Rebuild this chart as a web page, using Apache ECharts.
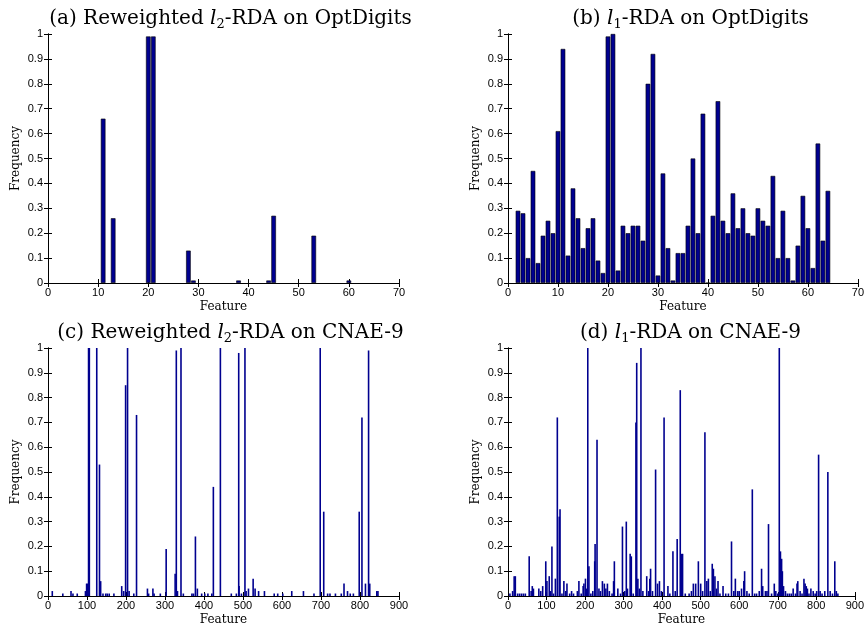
<!DOCTYPE html>
<html>
<head>
<meta charset="utf-8">
<script src="https://cdn.jsdelivr.net/npm/echarts@6/dist/echarts.min.js"></script>
<style>
  body { margin: 0; background: #fff; }
  #main { width: 867px; height: 627px; }
</style>
</head>
<body>
<div id="main"></div>
<script>
// (a) reweighted l2-RDA, OptDigits
var optL2Features = [11, 13, 20, 21, 28, 29, 38, 44, 45, 53, 60];
var optL2Freq = [0.66, 0.26, 0.99, 0.99, 0.13, 0.01, 0.01, 0.01, 0.27, 0.19, 0.01];

// (b) l1-RDA, OptDigits : features 2..64
var optL1Start = 2;
var optL1Freq = [0.29, 0.28, 0.10, 0.45, 0.08, 0.19, 0.25, 0.20, 0.61, 0.94,
                 0.11, 0.38, 0.26, 0.14, 0.22, 0.26, 0.09, 0.04, 0.99, 1.00,
                 0.05, 0.23, 0.20, 0.23, 0.23, 0.17, 0.80, 0.92, 0.03, 0.44,
                 0.14, 0.01, 0.12, 0.12, 0.23, 0.50, 0.20, 0.68, 0.00, 0.27,
                 0.73, 0.25, 0.20, 0.36, 0.22, 0.30, 0.20, 0.19, 0.30, 0.25,
                 0.23, 0.43, 0.10, 0.29, 0.10, 0.01, 0.15, 0.35, 0.22, 0.06,
                 0.56, 0.17, 0.37];

// (c) reweighted l2-RDA, CNAE-9
var cnaeL2Features = [11, 38, 59, 64, 75, 96, 99, 101, 104, 106, 125, 132, 135, 141, 148, 152, 157, 169,
                      189, 194, 199, 204, 208, 220, 227, 255, 258, 269, 272, 288, 303, 326, 329, 332, 341,
                      347, 369, 373, 378, 383, 394, 402, 410, 420, 424, 442, 470, 483, 489, 490, 496, 505,
                      508, 514, 526, 531, 540, 555, 580, 589, 602, 625, 655, 682, 698, 707, 717, 723, 737,
                      752, 759, 768, 775, 783, 798, 805, 814, 822, 825, 843, 846];
var cnaeL2Freq = [0.02, 0.01, 0.02, 0.01, 0.01, 0.02, 0.05, 0.05, 1.00, 1.00, 1.00, 0.53, 0.06, 0.01, 0.01, 0.01, 0.01, 0.01,
                  0.04, 0.02, 0.85, 1.00, 0.02, 0.01, 0.73, 0.03, 0.01, 0.03, 0.01, 0.01, 0.19, 0.09, 0.99, 0.02, 1.00,
                  0.01, 0.01, 0.01, 0.24, 0.03, 0.01, 0.01, 0.01, 0.01, 0.44, 1.00, 0.01, 0.01, 0.98, 0.04, 0.01, 1.00,
                  0.02, 0.03, 0.07, 0.03, 0.02, 0.02, 0.01, 0.01, 0.01, 0.02, 0.02, 0.01, 1.00, 0.34, 0.01, 0.01, 0.01,
                  0.01, 0.05, 0.02, 0.01, 0.01, 0.34, 0.72, 0.05, 0.99, 0.05, 0.02, 0.02];

// (d) l1-RDA, CNAE-9
var cnaeL1Features = [5, 12, 16, 19, 25, 30, 35, 40, 45, 55, 60, 63, 66, 80, 85, 90, 98, 101, 107, 110,
                      114, 118, 123, 128, 133, 135, 140, 145, 150, 153, 160, 165, 170, 180, 184, 190, 195, 197, 201, 204,
                      207, 210, 215, 220, 225, 226, 231, 236, 240, 245, 250, 254, 258, 263, 270, 274, 276, 285, 292, 297,
                      303, 307, 310, 317, 320, 325, 332, 334, 337, 341, 345, 350, 360, 365, 368, 370, 375, 383, 388, 393,
                      398, 405, 415, 420, 428, 434, 439, 447, 451, 453, 460, 470, 476, 481, 487, 494, 500, 505, 511, 516,
                      520, 525, 530, 533, 537, 541, 545, 550, 558, 565, 572, 580, 586, 590, 596, 600, 606, 612, 614, 620,
                      626, 634, 640, 645, 652, 658, 661, 668, 672, 676, 684, 691, 695, 700, 704, 707, 710, 712, 715, 720,
                      725, 730, 735, 740, 746, 750, 752, 758, 763, 768, 771, 774, 777, 781, 786, 792, 797, 801, 806, 810,
                      815, 822, 830, 836, 842, 848, 852, 856];
var cnaeL1Freq = [0.01, 0.02, 0.08, 0.08, 0.01, 0.01, 0.01, 0.01, 0.01, 0.16, 0.02, 0.04, 0.03, 0.03, 0.02, 0.04, 0.14, 0.06, 0.08, 0.02,
                  0.20, 0.01, 0.07, 0.72, 0.32, 0.35, 0.01, 0.06, 0.02, 0.05, 0.01, 0.02, 0.01, 0.02, 0.06, 0.01, 0.04, 0.05, 0.07, 0.03,
                  1.00, 0.12, 0.01, 0.02, 0.14, 0.21, 0.63, 0.03, 0.02, 0.06, 0.05, 0.03, 0.05, 0.02, 0.01, 0.06, 0.14, 0.03, 0.01, 0.28,
                  0.02, 0.30, 0.03, 0.17, 0.16, 0.01, 0.70, 0.94, 0.07, 0.03, 1.00, 0.02, 0.08, 0.02, 0.07, 0.11, 0.02, 0.51, 0.05, 0.06,
                  0.02, 0.72, 0.04, 0.01, 0.18, 0.02, 0.23, 0.83, 0.17, 0.17, 0.01, 0.01, 0.02, 0.05, 0.05, 0.14, 0.05, 0.02, 0.66, 0.06,
                  0.07, 0.02, 0.13, 0.11, 0.08, 0.03, 0.06, 0.01, 0.04, 0.01, 0.01, 0.22, 0.02, 0.07, 0.02, 0.02, 0.03, 0.06, 0.10, 0.02,
                  0.01, 0.43, 0.01, 0.01, 0.02, 0.11, 0.04, 0.02, 0.02, 0.29, 0.01, 0.05, 0.02, 0.01, 1.00, 0.18, 0.15, 0.10, 0.04, 0.02,
                  0.01, 0.01, 0.01, 0.03, 0.01, 0.05, 0.06, 0.02, 0.01, 0.07, 0.05, 0.04, 0.03, 0.01, 0.03, 0.02, 0.01, 0.02, 0.57, 0.02,
                  0.01, 0.02, 0.50, 0.02, 0.01, 0.14, 0.02, 0.01];

var titles = [
    '(a) Reweighted {i|l}{s|2}-RDA on OptDigits',
    '(b) {i|l}{s|1}-RDA on OptDigits',
    '(c) Reweighted {i|l}{s|2}-RDA on CNAE-9',
    '(d) {i|l}{s|1}-RDA on CNAE-9'
];

function pairs(xs, ys) {
    return xs.map(function (x, i) { return [x, ys[i]]; });
}

var grids = [
    {left: 48, top: 34, width: 351, height: 249},
    {left: 508, top: 34, width: 351, height: 249},
    {left: 48, top: 348, width: 351, height: 249},
    {left: 508, top: 348, width: 351, height: 249}
];
var xMax = [70, 70, 900, 900];
var xStep = [10, 10, 100, 100];

var tickStyle = {inside: true, length: 4, lineStyle: {color: '#000', width: 1}};
var lineStyle = {lineStyle: {color: '#000', width: 1}};
var labelFont = {color: '#000', fontSize: 11, fontFamily: 'Liberation Sans'};
var nameFont = {color: '#000', fontSize: 12, fontFamily: 'DejaVu Serif'};

var xAxes = [], yAxes = [], title = [];
grids.forEach(function (g, i) {
    xAxes.push({
        type: 'value', gridIndex: i, min: 0, max: xMax[i], interval: xStep[i],
        name: 'Feature', nameLocation: 'middle', nameGap: 18, nameTextStyle: nameFont,
        axisLine: lineStyle, axisTick: tickStyle, splitLine: {show: false},
        axisLabel: Object.assign({margin: 4}, labelFont)
    });
    xAxes.push({
        type: 'value', gridIndex: i, position: 'top', min: 0, max: xMax[i], interval: xStep[i],
        axisLine: lineStyle, axisTick: tickStyle, splitLine: {show: false}, axisLabel: {show: false}
    });
    yAxes.push({
        type: 'value', gridIndex: i, min: 0, max: 1, interval: 0.1,
        name: 'Frequency', nameLocation: 'middle', nameGap: 26, nameTextStyle: nameFont,
        axisLine: lineStyle, axisTick: tickStyle, splitLine: {show: false},
        axisLabel: Object.assign({margin: 5}, labelFont)
    });
    yAxes.push({
        type: 'value', gridIndex: i, position: 'right', min: 0, max: 1, interval: 0.1,
        axisLine: lineStyle, axisTick: tickStyle, splitLine: {show: false}, axisLabel: {show: false}
    });
    title.push({
        text: titles[i],
        left: g.left + g.width / 2 + 2, top: g.top - 32, textAlign: 'center',
        textStyle: {
            fontFamily: 'DejaVu Serif', fontSize: 20, fontWeight: 'normal', color: '#000',
            lineHeight: 24,
            rich: {
                i: {fontFamily: 'DejaVu Serif', fontSize: 20, fontStyle: 'italic', color: '#000', lineHeight: 24},
                s: {fontFamily: 'DejaVu Serif', fontSize: 13, color: '#000', lineHeight: 10, verticalAlign: 'bottom'}
            }
        }
    });
});

var optL1Features = optL1Freq.map(function (v, i) { return i + optL1Start; });

var seriesData = [
    pairs(optL2Features, optL2Freq),
    pairs(optL1Features, optL1Freq),
    pairs(cnaeL2Features, cnaeL2Freq),
    pairs(cnaeL1Features, cnaeL1Freq)
];

var series = seriesData.map(function (d, i) {
    var thick = i < 2;
    return {
        type: 'bar',
        xAxisIndex: i * 2, yAxisIndex: i * 2,
        barWidth: thick ? 4.6 : 1.6,
        itemStyle: thick ? {color: '#00008f', borderColor: '#000', borderWidth: 0.6}
                         : {color: '#00008f'},
        silent: true,
        data: d
    };
});

var myChart = echarts.init(document.getElementById('main'));
myChart.setOption({
    animation: false,
    backgroundColor: '#fff',
    title: title,
    grid: grids,
    xAxis: xAxes,
    yAxis: yAxes,
    series: series
});
</script>
</body>
</html>
